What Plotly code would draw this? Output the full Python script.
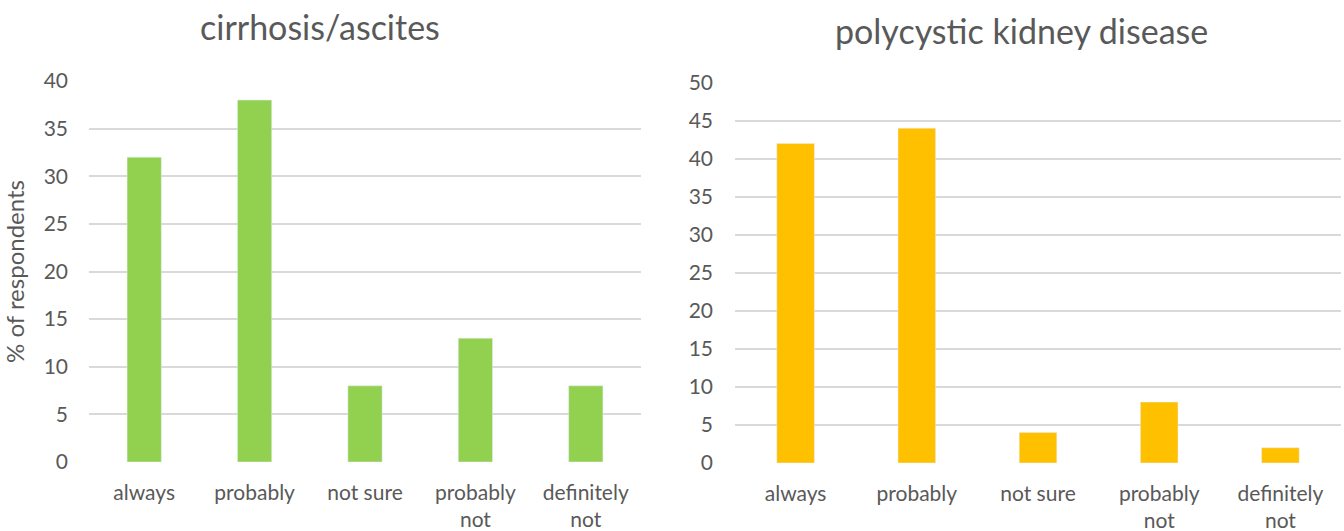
import plotly.graph_objects as go

# Survey answers per condition
categories = ["always", "probably", "not sure", "probably<br>not", "definitely<br>not"]
cirrhosis_pct = [32, 38, 8, 13, 8]
pkd_pct = [42, 44, 4, 8, 2]

left_ticks = [0, 5, 10, 15, 20, 25, 30, 35, 40]
right_ticks = [0, 5, 10, 15, 20, 25, 30, 35, 40, 45, 50]

FONT = "Lato, Open Sans, sans-serif"
TEXT = "#595959"
GRID = "#D9D9D9"

fig = go.Figure()
fig.add_trace(go.Bar(x=categories, y=cirrhosis_pct, marker_color="#92D050",
                     xaxis="x", yaxis="y", showlegend=False))
fig.add_trace(go.Bar(x=categories, y=pkd_pct, marker_color="#FFC000",
                     xaxis="x2", yaxis="y2", showlegend=False))

W, H = 1344, 531
common_x = dict(showgrid=False, zeroline=False, showline=False, ticks="",
                automargin=False, ticklabelstandoff=16,
                tickfont=dict(family=FONT, size=21, color=TEXT), fixedrange=True)
common_y = dict(showgrid=True, gridcolor=GRID, gridwidth=1.5, zeroline=False,
                showline=False, ticks="", automargin=False,
                tickfont=dict(family=FONT, size=21, color=TEXT))

fig.update_layout(
    width=W, height=H,
    margin=dict(l=0, r=0, t=0, b=0, autoexpand=False),
    plot_bgcolor="white", paper_bgcolor="white",
    bargap=0.69,
    xaxis=dict(domain=[89 / W, 641 / W], anchor="y", **common_x),
    yaxis=dict(domain=[(H - 462) / H, (H - 81) / H], anchor="x", range=[0, 40],
               tickvals=left_ticks, ticklabelstandoff=20,
               title=dict(text="% of respondents", font=dict(family=FONT, size=24, color=TEXT),
                          standoff=16),
               **common_y),
    xaxis2=dict(domain=[735 / W, 1341 / W], anchor="y2", **common_x),
    yaxis2=dict(domain=[(H - 463) / H, (H - 82.5) / H], anchor="x2", range=[0, 50],
                tickvals=right_ticks, ticklabelstandoff=21, **common_y),
    annotations=[
        dict(text="cirrhosis/ascites", x=320 / W, y=1 - 27 / H, xref="paper", yref="paper",
             xanchor="center", yanchor="middle", showarrow=False,
             font=dict(family=FONT, size=34, color=TEXT)),
        dict(text="polycystic kidney disease", x=1021 / W, y=1 - 30 / H, xref="paper",
             yref="paper", xanchor="center", yanchor="middle", showarrow=False,
             font=dict(family=FONT, size=34, color=TEXT)),
    ],
)

fig.write_html("out.html")
